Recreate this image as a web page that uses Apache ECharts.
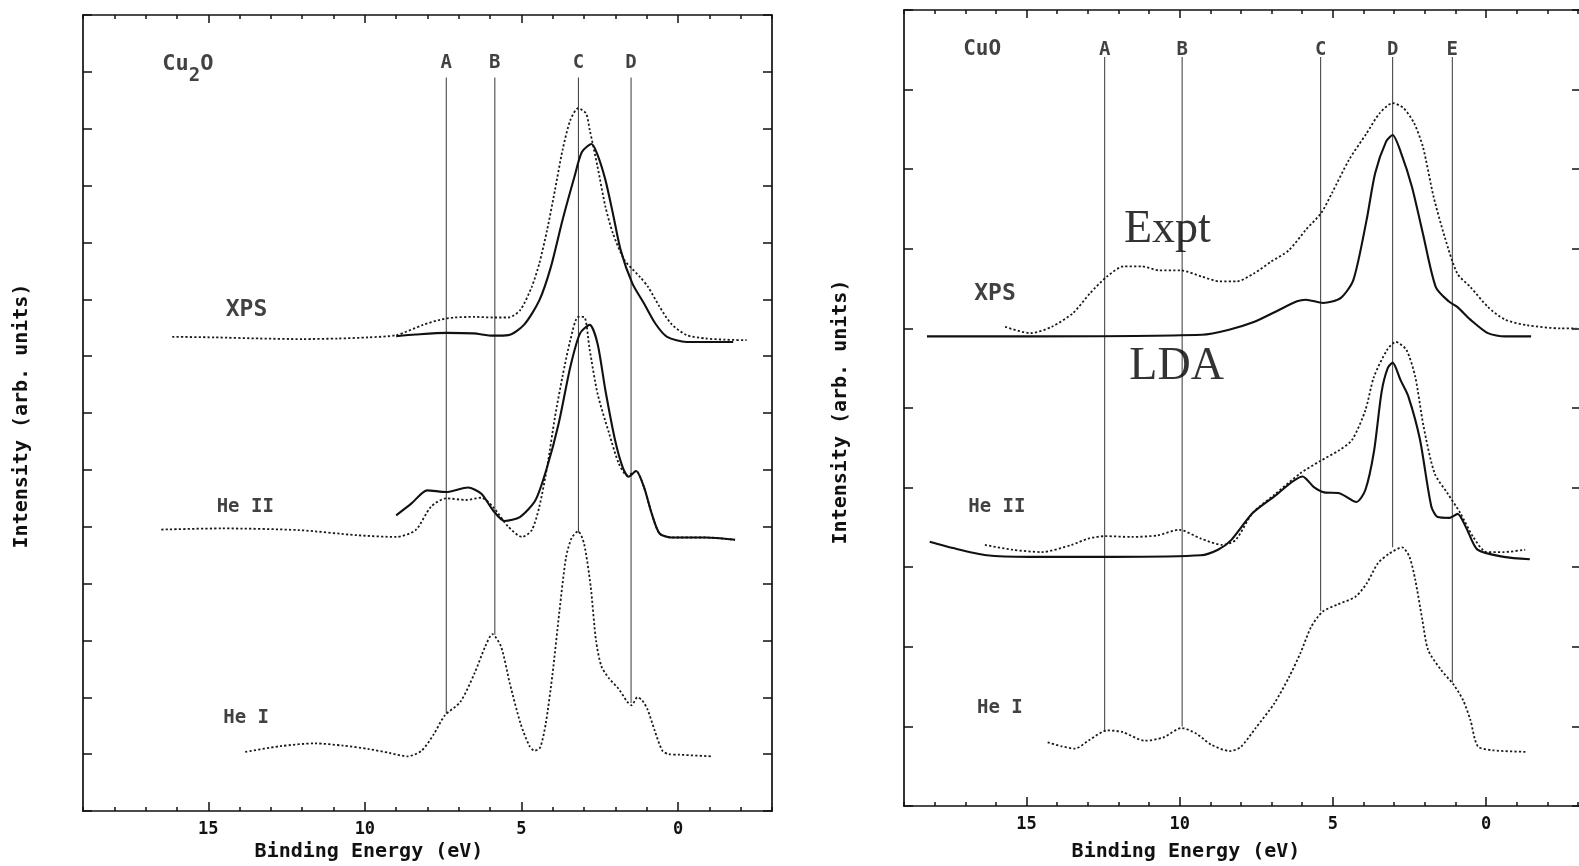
<!DOCTYPE html>
<html>
<head>
<meta charset="utf-8">
<script src="https://cdn.jsdelivr.net/npm/echarts@6.0.0/dist/echarts.min.js"></script>
<style>
  html, body { margin: 0; padding: 0; background: #fff; }
  #c { width: 1579px; height: 866px; }
</style>
</head>
<body>
<div id="c"></div>
<script>
// ---------------- DATA (binding energy eV, intensity arb. units) ----------------
const majorTickValues = [0, 5, 10, 15];
const minorTickValues = [-3, -2, -1, 0, 1, 2, 3, 4, 5, 6, 7, 8, 9, 10, 11, 12, 13, 14, 15, 16, 17, 18, 19];

// Cu2O panel
const cu2oXpsExpt = [[16.15,8.34],[14.8,8.33],[13.33,8.31],[12.0,8.30],[10.86,8.31],[9.9,8.33],[9.0,8.37],[8.14,8.55],[7.6,8.64],[7.15,8.68],[6.5,8.69],[5.91,8.68],[5.42,8.68],[5.04,8.81],[4.67,9.22],[4.43,9.63],[4.18,10.22],[3.93,10.92],[3.69,11.62],[3.44,12.15],[3.19,12.36],[2.94,12.27],[2.82,11.98],[2.57,11.33],[2.32,10.63],[2.08,10.16],[1.71,9.69],[1.21,9.39],[0.96,9.22],[0.59,8.87],[0.22,8.57],[-0.27,8.37],[-0.89,8.31],[-1.5,8.29],[-2.19,8.28]];
const cu2oXpsLda = [[9.0,8.35],[8.38,8.38],[7.4,8.41],[6.53,8.40],[5.91,8.36],[5.42,8.37],[4.92,8.55],[4.43,8.98],[4.06,9.57],[3.69,10.39],[3.31,11.15],[3.07,11.59],[2.76,11.73],[2.57,11.54],[2.32,11.10],[2.08,10.51],[1.83,9.86],[1.46,9.28],[1.09,8.93],[0.72,8.57],[0.35,8.34],[-0.27,8.25],[-1.76,8.25]];
const cu2oHe2Expt = [[16.5,4.95],[14.57,4.97],[12.1,4.94],[10.24,4.85],[9.0,4.82],[8.38,4.94],[7.89,5.35],[7.4,5.50],[6.78,5.47],[6.28,5.51],[5.91,5.35],[5.42,5.0],[4.98,4.82],[4.67,4.94],[4.43,5.35],[4.18,6.05],[3.93,6.93],[3.69,7.64],[3.44,8.28],[3.19,8.69],[3.0,8.69],[2.82,8.11],[2.57,7.34],[2.2,6.64],[1.89,6.11],[1.62,5.90],[1.34,5.98],[1.09,5.70],[0.84,5.23],[0.59,4.88],[0.22,4.81],[-0.89,4.81],[-1.82,4.77]];
const cu2oHe2Lda = [[9.0,5.20],[8.51,5.41],[8.01,5.64],[7.4,5.61],[6.71,5.69],[6.28,5.58],[5.91,5.29],[5.54,5.10],[5.05,5.17],[4.55,5.47],[4.18,6.05],[3.81,6.82],[3.44,7.81],[3.13,8.40],[2.82,8.55],[2.57,8.22],[2.32,7.40],[2.01,6.52],[1.77,6.05],[1.58,5.88],[1.34,5.98],[1.09,5.70],[0.84,5.23],[0.59,4.88],[0.22,4.81],[-0.89,4.81],[-1.82,4.77]];
const cu2oHe1Expt = [[13.82,1.04],[12.7,1.14],[11.6,1.19],[10.7,1.15],[9.88,1.09],[9.2,1.02],[8.64,0.96],[8.19,1.06],[7.8,1.35],[7.45,1.68],[6.95,1.92],[6.5,2.42],[6.16,2.89],[5.93,3.11],[5.65,2.89],[5.37,2.24],[5.03,1.54],[4.75,1.15],[4.58,1.06],[4.4,1.12],[4.22,1.55],[4.01,2.4],[3.79,3.5],[3.58,4.45],[3.4,4.8],[3.19,4.92],[3.0,4.7],[2.79,3.95],[2.62,3.0],[2.45,2.55],[2.2,2.33],[1.9,2.15],[1.62,1.92],[1.48,1.86],[1.3,2.0],[1.15,1.95],[0.97,1.78],[0.75,1.42],[0.5,1.06],[0.3,1.0],[-0.04,0.99],[-1.11,0.96]];
const cu2oFeatureNames = ['A', 'B', 'C', 'D'];
const cu2oFeatureEnergies = [7.4, 5.85, 3.18, 1.5];
const cu2oFeatureLineTop = 12.9;
const cu2oFeatureLineBottoms = [1.72, 3.1, 4.9, 1.9];

// CuO panel
const cuoXpsExpt = [[15.7,6.02],[14.87,5.94],[14.18,6.02],[13.49,6.19],[12.93,6.44],[12.38,6.65],[11.82,6.78],[11.24,6.78],[10.68,6.73],[9.98,6.73],[9.27,6.65],[8.70,6.59],[8.14,6.59],[7.58,6.69],[7.01,6.84],[6.44,6.98],[5.88,7.24],[5.38,7.45],[5.03,7.70],[4.47,8.12],[3.90,8.45],[3.48,8.70],[3.05,8.83],[2.70,8.77],[2.35,8.58],[2.06,8.28],[1.71,7.65],[1.35,7.15],[0.94,6.69],[0.51,6.52],[-0.06,6.27],[-0.62,6.11],[-1.34,6.04],[-2.45,6.00],[-2.95,6.0]];
const cuoXpsLda = [[18.25,5.90],[14.87,5.90],[9.27,5.92],[8.42,5.98],[7.58,6.08],[6.87,6.21],[6.17,6.34],[5.88,6.36],[5.32,6.32],[4.75,6.38],[4.33,6.61],[3.90,7.36],[3.62,7.95],[3.26,8.35],[3.05,8.43],[2.77,8.20],[2.42,7.78],[2.06,7.19],[1.64,6.52],[1.22,6.34],[0.94,6.27],[0.51,6.11],[-0.06,5.94],[-0.62,5.90],[-1.47,5.90]];
const cuoHe2Expt = [[16.36,3.28],[15.47,3.22],[14.5,3.19],[13.53,3.28],[12.98,3.36],[12.42,3.39],[11.57,3.38],[10.72,3.40],[10.02,3.47],[9.31,3.36],[8.61,3.28],[8.18,3.34],[7.62,3.68],[6.91,3.91],[6.06,4.18],[5.43,4.33],[4.79,4.47],[4.37,4.60],[3.94,4.97],[3.66,5.39],[3.23,5.73],[2.95,5.83],[2.60,5.73],[2.31,5.39],[2.04,4.77],[1.68,4.18],[1.26,3.93],[0.84,3.68],[0.42,3.38],[-0.02,3.19],[-0.58,3.19],[-1.28,3.22]];
const cuoHe2Lda = [[18.16,3.32],[17.4,3.24],[16.3,3.15],[14.91,3.13],[12.15,3.13],[9.31,3.15],[8.75,3.22],[8.32,3.34],[7.62,3.68],[6.91,3.89],[5.99,4.14],[5.63,4.01],[5.28,3.94],[4.79,3.93],[4.23,3.82],[3.94,3.97],[3.66,4.45],[3.41,5.2],[3.21,5.5],[3.05,5.57],[2.79,5.35],[2.54,5.15],[2.16,4.61],[1.79,3.77],[1.58,3.63],[1.19,3.62],[0.93,3.67],[0.64,3.49],[0.28,3.22],[-0.58,3.13],[-1.43,3.10]];
const cuoHe1Expt = [[14.31,0.80],[13.85,0.75],[13.42,0.72],[12.95,0.83],[12.36,0.95],[11.87,0.93],[11.14,0.82],[10.54,0.86],[9.94,0.98],[9.46,0.91],[8.97,0.77],[8.36,0.69],[8.01,0.74],[7.52,0.98],[6.91,1.29],[6.43,1.62],[6.06,1.92],[5.71,2.25],[5.34,2.44],[4.86,2.53],[4.26,2.63],[3.89,2.80],[3.53,3.05],[3.16,3.17],[2.74,3.25],[2.50,3.13],[2.31,2.84],[2.08,2.34],[1.89,1.96],[1.47,1.71],[1.05,1.52],[0.75,1.33],[0.51,1.08],[0.27,0.75],[-0.22,0.70],[-1.32,0.68]];
const cuoFeatureNames = ['A', 'B', 'C', 'D', 'E'];
const cuoFeatureEnergies = [12.45, 9.92, 5.4, 3.05, 1.1];
const cuoFeatureLineTop = 9.41;
const cuoFeatureLineBottoms = [0.95, 1.0, 2.45, 3.25, 1.55];

// ---------------- LAYOUT / STYLE ----------------
const MONO = '"DejaVu Sans Mono", "Liberation Mono", monospace';
const SERIF = '"Liberation Serif", "DejaVu Serif", serif';
const INK = '#111';

const panels = [
  { grid: { left: 83, top: 15, width: 689, height: 796 }, ymax: 14, xmin: -3,
    curves: [
      { d: cu2oXpsExpt, expt: true }, { d: cu2oXpsLda, expt: false },
      { d: cu2oHe2Expt, expt: true }, { d: cu2oHe2Lda, expt: false },
      { d: cu2oHe1Expt, expt: true }
    ],
    names: cu2oFeatureNames, energies: cu2oFeatureEnergies, top: cu2oFeatureLineTop, bottoms: cu2oFeatureLineBottoms,
    labelLevel: 13.16,
    notes: [
      { pos: [15.65, 12.93], text: '{a|Cu}{s|2}{a|O}' },
      { pos: [13.78, 8.81], text: '{x|XPS}' },
      { pos: [13.82, 5.35], text: '{h|He II}' },
      { pos: [13.79, 1.63], text: '{h|He I}' }
    ] },
  { grid: { left: 904, top: 10, width: 677, height: 796 }, ymax: 10, xmin: -3.1,
    curves: [
      { d: cuoXpsExpt, expt: true }, { d: cuoXpsLda, expt: false },
      { d: cuoHe2Expt, expt: true }, { d: cuoHe2Lda, expt: false },
      { d: cuoHe1Expt, expt: true }
    ],
    names: cuoFeatureNames, energies: cuoFeatureEnergies, top: cuoFeatureLineTop, bottoms: cuoFeatureLineBottoms,
    labelLevel: 9.5,
    notes: [
      { pos: [16.45, 9.5], text: '{c|CuO}' },
      { pos: [16.03, 6.43], text: '{x|XPS}' },
      { pos: [15.97, 3.76], text: '{h|He II}' },
      { pos: [15.87, 1.23], text: '{h|He I}' }
    ],
    big: [
      { pos: [10.4, 7.24], text: 'Expt' },
      { pos: [10.1, 5.52], text: 'LDA' }
    ] }
];

const grids = [], xAxes = [], yAxes = [], series = [];
const axisLineStyle = { color: INK, width: 1.7 };
const tickStyle = { color: INK, width: 1.5 };
const monoRich = {
  a: { fontFamily: MONO, fontWeight: 'bold', fontSize: 22, color: INK, lineHeight: 22, verticalAlign: 'top' },
  s: { fontFamily: MONO, fontWeight: 'bold', fontSize: 19, color: INK, lineHeight: 46 },
  x: { fontFamily: MONO, fontWeight: 'bold', fontSize: 23, color: INK },
  h: { fontFamily: MONO, fontWeight: 'bold', fontSize: 19, color: INK },
  c: { fontFamily: MONO, fontWeight: 'bold', fontSize: 21, color: INK }
};

panels.forEach((p, gi) => {
  grids.push({ ...p.grid, outerBoundsMode: 'none', containLabel: false });
  const base = { gridIndex: gi, type: 'value', min: p.xmin, max: 19, inverse: true, splitLine: { show: false } };
  const xMain = xAxes.length;
  xAxes.push(
    { ...base, position: 'bottom',
      axisLine: { onZero: false, lineStyle: axisLineStyle },
      axisTick: { inside: true, length: 4, customValues: minorTickValues, lineStyle: tickStyle }, axisLabel: { show: false } },
    { ...base, position: 'bottom',
      axisLine: { show: false, onZero: false },
      axisTick: { inside: true, length: 9, customValues: majorTickValues, lineStyle: tickStyle },
      axisLabel: { customValues: majorTickValues, margin: 10, fontFamily: MONO, fontWeight: 'bold', fontSize: 17, color: INK } },
    { ...base, position: 'top',
      axisLine: { onZero: false, lineStyle: axisLineStyle },
      axisTick: { inside: true, length: 4, customValues: minorTickValues, lineStyle: tickStyle }, axisLabel: { show: false } },
    { ...base, position: 'top',
      axisLine: { show: false, onZero: false },
      axisTick: { inside: true, length: 8, customValues: majorTickValues, lineStyle: tickStyle },
      axisLabel: { show: false } }
  );
  const yMain = yAxes.length;
  ['left', 'right'].forEach(pos => {
    yAxes.push({ gridIndex: gi, type: 'value', min: 0, max: p.ymax, interval: 1, position: pos,
      axisLine: { onZero: false, lineStyle: axisLineStyle },
      axisTick: { inside: true, length: 9, lineStyle: tickStyle },
      axisLabel: { show: false }, splitLine: { show: false } });
  });

  // feature marker lines
  p.energies.forEach((e, i) => {
    series.push({ type: 'line', xAxisIndex: xMain, yAxisIndex: yMain, silent: true, z: 1,
      data: [[e, p.top], [e, p.bottoms[i]]], showSymbol: false,
      lineStyle: { color: '#4a4a4a', width: 1.1 } });
  });
  series.push({ type: 'scatter', xAxisIndex: xMain, yAxisIndex: yMain, silent: true, symbolSize: 0,
    data: p.names.map((n, i) => ({ name: n, value: [p.energies[i], p.labelLevel] })),
    label: { show: true, position: 'inside', formatter: '{b}', fontFamily: MONO, fontWeight: 'bold', fontSize: 19, color: INK } });

  // curves
  p.curves.forEach(c => {
    series.push({ type: 'line', xAxisIndex: xMain, yAxisIndex: yMain, silent: true, z: 3,
      data: c.d, showSymbol: false, smooth: 0.25,
      lineStyle: c.expt ? { color: '#1a1a1a', width: 1.8, type: [2.2, 2.2] } : { color: INK, width: 2.1 } });
  });

  // text notes
  series.push({ type: 'scatter', xAxisIndex: xMain, yAxisIndex: yMain, silent: true, symbolSize: 0,
    data: p.notes.map(n => ({ value: n.pos, text: n.text })),
    label: { show: true, position: 'inside', formatter: prm => prm.data.text, rich: monoRich } });
  if (p.big) {
    series.push({ type: 'scatter', xAxisIndex: xMain, yAxisIndex: yMain, silent: true, symbolSize: 0, z: 5,
      data: p.big.map(n => ({ value: n.pos, name: n.text })),
      label: { show: true, position: 'inside', formatter: '{b}', fontFamily: SERIF, fontSize: 46, color: '#000' } });
  }
});

const axisTitle = (x, y, text, rot) => ({
  type: 'text', x, y, rotation: rot || 0,
  style: { text, font: 'bold 20px ' + MONO, fill: INK, align: 'center', verticalAlign: 'middle' }
});

const chart = echarts.init(document.getElementById('c'), null, { renderer: 'canvas' });
chart.setOption({
  backgroundColor: '#fff',
  animation: false,
  grid: grids,
  xAxis: xAxes,
  yAxis: yAxes,
  series,
  graphic: [
    axisTitle(369, 852, 'Binding Energy (eV)'),
    axisTitle(1186, 852, 'Binding Energy (eV)'),
    axisTitle(22, 416, 'Intensity (arb. units)', Math.PI / 2),
    axisTitle(841, 412, 'Intensity (arb. units)', Math.PI / 2)
  ]
});
</script>
</body>
</html>
